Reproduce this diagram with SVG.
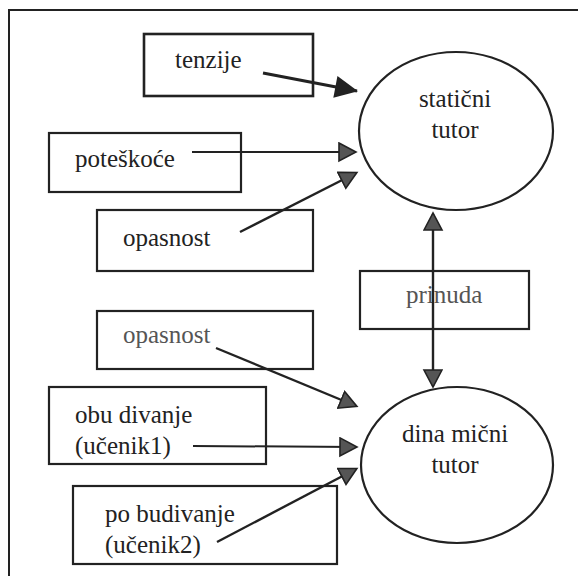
<svg xmlns="http://www.w3.org/2000/svg" width="578" height="576" viewBox="0 0 578 576">
<defs>
<style>
.box{fill:#fff;stroke:#222;stroke-width:2.2}
.ell{fill:#fff;stroke:#222;stroke-width:2.2}
.t{font-family:"Liberation Serif",serif;font-size:25px;fill:#222}
.g{fill:#555}
.c{text-anchor:middle}
.ln{fill:none;stroke:#222;stroke-width:2.4}
</style>
<marker id="ag" markerUnits="userSpaceOnUse" markerWidth="20" markerHeight="22" refX="17" refY="10" orient="auto" viewBox="0 0 20 22">
<path d="M1,1 L18,10 L1,19 Z" fill="#555" stroke="#222" stroke-width="1.6" stroke-linejoin="miter"/>
</marker>
<marker id="ab" markerUnits="userSpaceOnUse" markerWidth="26" markerHeight="26" refX="23" refY="12" orient="auto" viewBox="0 0 26 26">
<path d="M1,1 L24,12 L1,23 Z" fill="#222"/>
</marker>
</defs>
<rect width="578" height="576" fill="#fff"/>
<path d="M9,576 V10 H578" fill="none" stroke="#222" stroke-width="2"/>

<g id="statični">
<ellipse class="ell" cx="456" cy="131" rx="97" ry="79"/>
<text class="t c" x="455" y="107">statični</text>
<text class="t c" x="455" y="138">tutor</text>
</g>
<g id="dinamični">
<ellipse class="ell" cx="457" cy="465" rx="96" ry="78"/>
<text class="t c" x="455" y="442">dina mični</text>
<text class="t c" x="455" y="473">tutor</text>
</g>
<g id="tenzije">
<rect class="box" x="144" y="34" width="169" height="62" style="stroke-width:2.6"/>
<text class="t" x="175" y="68">tenzije</text>
</g>
<g id="poteskoce">
<rect class="box" x="49" y="133" width="192" height="59"/>
<text class="t" x="75" y="167">poteškoće</text>
</g>
<g id="opasnost1">
<rect class="box" x="97" y="210" width="216" height="61"/>
<text class="t" x="123" y="246">opasnost</text>
</g>
<g id="prinuda">
<rect class="box" x="360" y="271" width="169" height="58"/>
<text class="t g" x="406" y="303">prinuda</text>
</g>
<g id="opasnost2">
<rect class="box" x="97" y="311" width="216" height="58"/>
<text class="t g" x="123" y="343">opasnost</text>
</g>
<g id="obudivanje">
<rect class="box" x="49" y="387" width="217" height="77"/>
<text class="t" x="75" y="423">obu divanje</text>
<text class="t" x="75" y="454">(učenik1)</text>
</g>
<g id="pobudivanje">
<rect class="box" x="73" y="486" width="264" height="78"/>
<text class="t" x="105" y="522">po budivanje</text>
<text class="t" x="105" y="553">(učenik2)</text>
</g>

<g id="connectors">
<line class="ln" x1="263" y1="73" x2="357" y2="91" style="stroke-width:3.2" marker-end="url(#ab)"/>
<line class="ln" x1="192" y1="152" x2="355" y2="152" style="stroke-width:1.8" marker-end="url(#ag)"/>
<line class="ln" x1="240" y1="232" x2="356" y2="173" marker-end="url(#ag)"/>
<line class="ln" x1="433" y1="290" x2="433" y2="214" marker-end="url(#ag)"/>
<line class="ln" x1="433" y1="290" x2="433" y2="386" marker-end="url(#ag)"/>
<line class="ln" x1="216" y1="348" x2="356" y2="406" marker-end="url(#ag)"/>
<line class="ln" x1="193" y1="446" x2="356" y2="447" style="stroke-width:2" marker-end="url(#ag)"/>
<line class="ln" x1="217" y1="542" x2="356" y2="469" marker-end="url(#ag)"/>
</g>
</svg>
